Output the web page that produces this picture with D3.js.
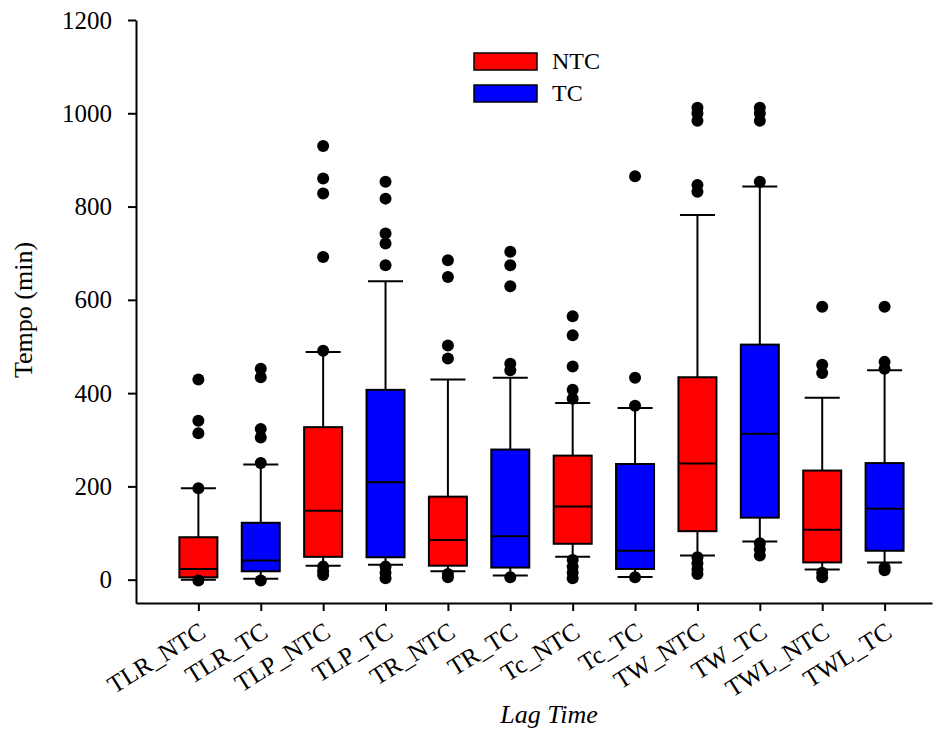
<!DOCTYPE html>
<html><head><meta charset="utf-8">
<script src="https://cdn.jsdelivr.net/npm/d3@7"></script>
<style>body{margin:0;background:#fff}svg{display:block}</style>
</head><body><svg id="c" width="936" height="734"></svg>
<script>
const categories = ["TLR_NTC","TLR_TC","TLP_NTC","TLP_TC","TR_NTC","TR_TC","Tc_NTC","Tc_TC","TW_NTC","TW_TC","TWL_NTC","TWL_TC"];
const groups = ["NTC","TC","NTC","TC","NTC","TC","NTC","TC","NTC","TC","NTC","TC"];
const q1 =          [5, 18, 49, 48, 30, 26, 77, 23, 104, 133, 37, 62];
const medians =     [23, 41, 148, 209, 85, 93, 157, 62, 249, 313, 107, 152];
const q3 =          [91, 122, 327, 407, 178, 279, 266, 248, 434, 504, 234, 250];
const whiskerLow =  [0, 2, 30, 32, 18, 9, 49, 6, 52, 82, 22, 37];
const whiskerHigh = [196, 247, 488, 640, 429, 433, 379, 368, 782, 843, 390, 449];
const outliers = [
  [429, 341, 314, 196, -2],
  [452, 434, 323, 305, 250, -2],
  [930, 860, 828, 692, 491, 28, 18, 10],
  [853, 817, 742, 721, 674, 28, 15, 3],
  [685, 649, 502, 474, 12, 5],
  [703, 674, 629, 463, 449, 5],
  [565, 524, 457, 407, 388, 42, 28, 15, 3],
  [865, 433, 373, 5],
  [1012, 1000, 984, 846, 832, 48, 35, 22, 12],
  [1012, 1000, 984, 853, 78, 65, 52],
  [585, 461, 443, 15, 5],
  [585, 467, 452, 26, 20]
];
const yTicks = [0, 200, 400, 600, 800, 1000, 1200];
const legendLabels = ["NTC", "TC"];
const colors = {NTC: "#ff0000", TC: "#0000ff"};

const FONT = "'Liberation Serif', 'Times New Roman', serif";
const svg = d3.select("#c");
const y = d3.scaleLinear().domain([-50, 1200]).range([603, 20]);
const x = d3.scaleLinear().domain([0, 12.76]).range([136, 932]);
const boxW = 38, capW = 35;

// y axis
const ya = svg.append("g").attr("transform", "translate(136,0)")
  .call(d3.axisLeft(y).tickValues(yTicks).tickSize(8).tickSizeOuter(0).tickPadding(16).tickFormat(d3.format("d")));
ya.attr("font-family", FONT).attr("font-size", 25);
ya.select(".domain").attr("stroke", "#000").attr("stroke-width", 2);
ya.selectAll(".tick line").attr("stroke", "#000").attr("stroke-width", 2);

// x axis
const xa = svg.append("g").attr("transform", "translate(0,603)")
  .call(d3.axisBottom(x).tickValues(d3.range(1, 13)).tickSize(8).tickSizeOuter(0).tickFormat(() => ""));
xa.select(".domain").attr("stroke", "#000").attr("stroke-width", 2);
xa.selectAll(".tick line").attr("stroke", "#000").attr("stroke-width", 2);

svg.append("g").attr("font-family", FONT).attr("font-size", 25)
  .selectAll("text").data(categories).join("text")
  .attr("transform", (d, i) => `translate(${x(i + 1) + 9},636) rotate(-32)`)
  .attr("text-anchor", "end")
  .text(d => d);

// boxes
const g = svg.append("g");
categories.forEach((c, i) => {
  const cx = x(i + 1);
  const bg = g.append("g");
  bg.append("line").attr("x1", cx).attr("x2", cx).attr("y1", y(whiskerHigh[i])).attr("y2", y(q3[i]))
    .attr("stroke", "#000").attr("stroke-width", 2);
  bg.append("line").attr("x1", cx).attr("x2", cx).attr("y1", y(q1[i])).attr("y2", y(whiskerLow[i]))
    .attr("stroke", "#000").attr("stroke-width", 2);
  [whiskerHigh[i], whiskerLow[i]].forEach(v => {
    bg.append("line").attr("x1", cx - capW / 2).attr("x2", cx + capW / 2).attr("y1", y(v)).attr("y2", y(v))
      .attr("stroke", "#000").attr("stroke-width", 2);
  });
  bg.append("rect").attr("x", cx - boxW / 2).attr("width", boxW)
    .attr("y", y(q3[i])).attr("height", y(q1[i]) - y(q3[i]))
    .attr("fill", colors[groups[i]]).attr("stroke", "#000").attr("stroke-width", 2);
  bg.append("line").attr("x1", cx - boxW / 2).attr("x2", cx + boxW / 2).attr("y1", y(medians[i])).attr("y2", y(medians[i]))
    .attr("stroke", "#000").attr("stroke-width", 2);
  bg.selectAll("circle").data(outliers[i]).join("circle")
    .attr("cx", cx).attr("cy", v => y(v)).attr("r", 6).attr("fill", "#000");
});

// legend
const lg = svg.append("g").attr("font-family", FONT).attr("font-size", 24);
legendLabels.forEach((l, i) => {
  lg.append("rect").attr("x", 474).attr("y", 53 + i * 32).attr("width", 63).attr("height", 17)
    .attr("fill", colors[l]).attr("stroke", "#000").attr("stroke-width", 1.5);
  lg.append("text").attr("x", 552).attr("y", 69 + i * 32).text(l);
});

// titles
svg.append("text").attr("transform", "translate(32,310) rotate(-90)").attr("text-anchor", "middle")
  .attr("font-family", FONT).attr("font-size", 26).text("Tempo (min)");
svg.append("text").attr("x", 549).attr("y", 723).attr("text-anchor", "middle")
  .attr("font-family", FONT).attr("font-size", 26).attr("font-style", "italic").text("Lag Time");
</script></body></html>
